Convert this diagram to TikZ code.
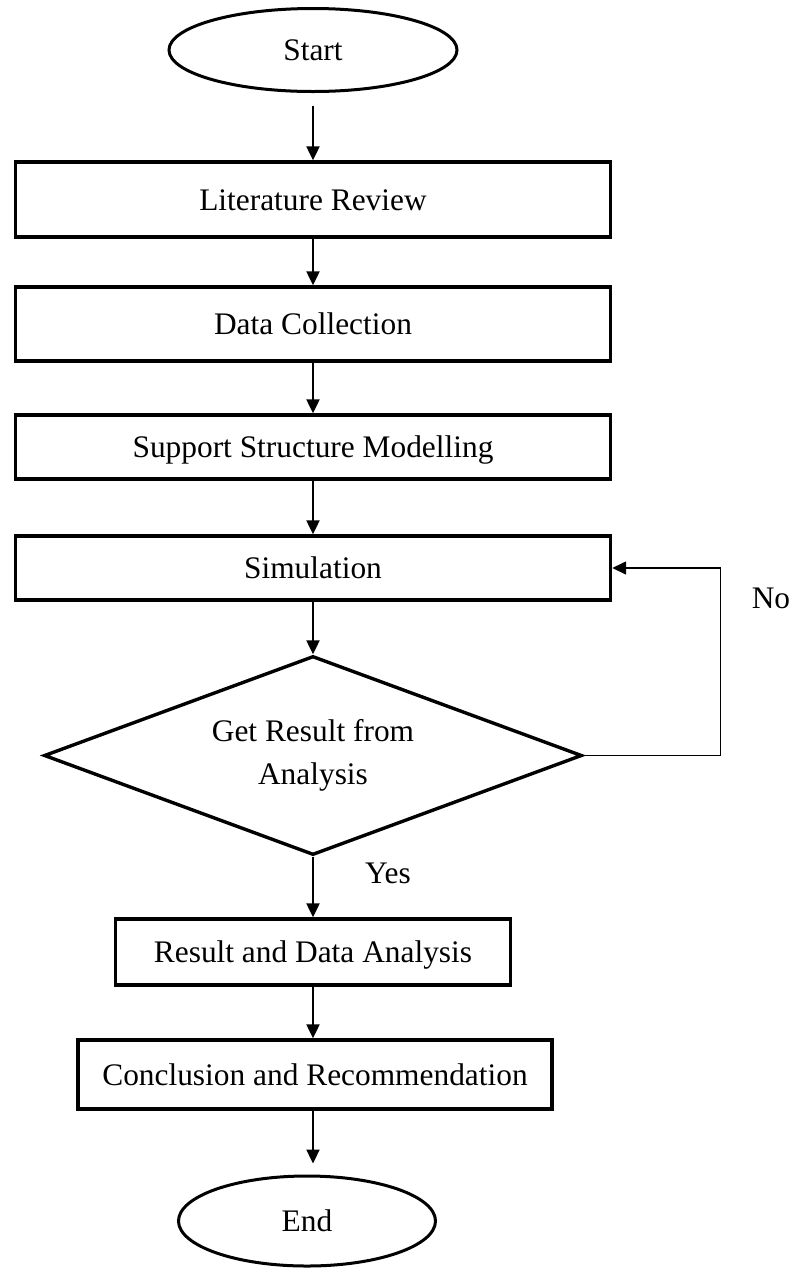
\documentclass[tikz,border=0pt]{standalone}
\usepackage{fontspec}
\setmainfont{Liberation Serif}
\usetikzlibrary{shapes.geometric,arrows.meta}
\begin{document}
\begin{tikzpicture}[x=1bp,y=-1bp,
  every node/.style={font=\fontsize{31.5}{43}\selectfont},
  stepbox/.style={draw,line width=3.4bp,rectangle,inner sep=0pt,minimum width=595bp,text height=21bp,text depth=0bp},
  termbox/.style={draw,line width=3bp,ellipse,inner sep=0pt,text height=21bp,text depth=0bp},
  checkbox/.style={draw,line width=3.4bp,diamond,aspect=2.7,inner sep=0pt,align=center},
  flow/.style={line width=2.2bp,-{Triangle[length=14bp,width=13bp]}},
  loopback/.style={line width=1.5bp,-{Triangle[length=14bp,width=13bp]}}]
\useasboundingbox (0,0) rectangle (795,1268);
\node[termbox,minimum width=288bp,minimum height=83bp] (start) at (313,50) {Start};
\node[stepbox,minimum height=75bp] (lit) at (313,199.5) {Literature Review};
\node[stepbox,minimum height=74bp] (data) at (313,324) {Data Collection};
\node[stepbox,minimum height=64bp] (model) at (313,447) {Support Structure Modelling};
\node[stepbox,minimum height=64bp] (sim) at (313,568) {Simulation};
\node[checkbox,minimum width=538bp,minimum height=199bp] (check) at (313,755.5) {Get Result from\\Analysis};
\node[stepbox,minimum width=395bp,minimum height=66bp] (res) at (313,952) {Result and Data Analysis};
\node[stepbox,minimum width=474bp,minimum height=69bp] (concl) at (315,1074.5) {Conclusion and Recommendation};
\node[termbox,minimum width=257bp,minimum height=90bp] (end) at (307,1221) {End};
\node (no) at (771,598) {No};
\node (yes) at (388,873) {Yes};
\draw[flow,shorten <=12.5bp] (start) -- (lit);
\draw[flow] (lit) -- (data);
\draw[flow] (data) -- (model);
\draw[flow] (model) -- (sim);
\draw[flow] (sim) -- (check);
\draw[flow] (check) -- (res);
\draw[flow] (res) -- (res |- concl.north);
\draw[flow,shorten >=11bp] (res |- concl.south) -- (res |- end.north);
\draw[loopback] (check.east) -- ++(137,0) |- (sim.east);
\end{tikzpicture}
\end{document}
